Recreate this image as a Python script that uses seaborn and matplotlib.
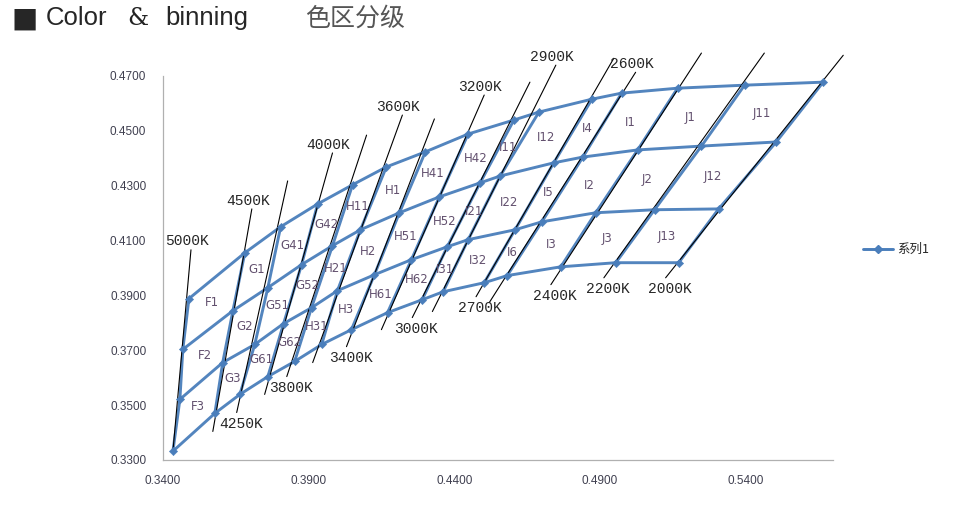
import numpy as np
import pandas as pd
import matplotlib.pyplot as plt
import seaborn as sns
from matplotlib.lines import Line2D

# CCT lines, hottest to coolest
cct = ['5000K', '4500K', '4250K', '4000K', '3800K', '3600K', '3400K', '3200K',
       '3000K', '2900K', '2700K', '2600K', '2400K', '2200K', '2000K']
label_side = ['top', 'top', 'bottom', 'top', 'bottom', 'top', 'bottom', 'top',
              'bottom', 'top', 'bottom', 'top', 'bottom', 'bottom', 'bottom']

# grid points (x, y) on the 4 boundary curves, one value per CCT line
row_a_x = [0.3489, 0.3681, 0.3804, 0.3931, 0.4051, 0.4167, 0.4301, 0.4448, 0.4605, 0.4691, 0.4873, 0.4975, 0.5167, 0.5397, 0.5667]
row_a_y = [0.3888, 0.4055, 0.4150, 0.4233, 0.4303, 0.4368, 0.4423, 0.4488, 0.4539, 0.4568, 0.4615, 0.4637, 0.4655, 0.4666, 0.4677]
row_b_x = [0.3468, 0.3640, 0.3760, 0.3876, 0.3982, 0.4078, 0.4212, 0.4349, 0.4489, 0.4558, 0.4742, 0.4842, 0.5030, 0.5249, 0.5506]
row_b_y = [0.3703, 0.3844, 0.3928, 0.4012, 0.4081, 0.4139, 0.4201, 0.4259, 0.4310, 0.4335, 0.4383, 0.4404, 0.4430, 0.4444, 0.4459]
row_c_x = [0.3458, 0.3605, 0.3715, 0.3814, 0.3910, 0.3999, 0.4126, 0.4253, 0.4376, 0.4448, 0.4609, 0.4701, 0.4886, 0.5088, 0.5308]
row_c_y = [0.3521, 0.3655, 0.3721, 0.3797, 0.3855, 0.3917, 0.3975, 0.4030, 0.4077, 0.4103, 0.4139, 0.4168, 0.4201, 0.4212, 0.4215]
row_d_x = [0.3434, 0.3578, 0.3664, 0.3760, 0.3852, 0.3945, 0.4047, 0.4171, 0.4290, 0.4362, 0.4503, 0.4582, 0.4766, 0.4955, 0.5171]
row_d_y = [0.3332, 0.3470, 0.3539, 0.3604, 0.3659, 0.3721, 0.3775, 0.3837, 0.3884, 0.3913, 0.3946, 0.3972, 0.4004, 0.4019, 0.4019]

# thin black CCT guide lines: top and bottom ends
top_x = [0.3496, 0.3705, 0.3828, 0.3982, 0.4099, 0.4222, 0.4332, 0.4503, 0.4660, 0.4749, 0.4948, 0.5023, 0.5249, 0.5465, 0.5736]
top_y = [0.4066, 0.4215, 0.4317, 0.4419, 0.4484, 0.4557, 0.4543, 0.4630, 0.4677, 0.4739, 0.4764, 0.4713, 0.4783, 0.4783, 0.4775]
bot_x = [0.3434, 0.3571, 0.3653, 0.3749, 0.3825, 0.3914, 0.4030, 0.4150, 0.4256, 0.4325, 0.4475, 0.4520, 0.4732, 0.4914, 0.5126]
bot_y = [0.3332, 0.3404, 0.3473, 0.3539, 0.3604, 0.3655, 0.3713, 0.3775, 0.3819, 0.3841, 0.3895, 0.3873, 0.3939, 0.3964, 0.3964]

# bin names, rows top->bottom, columns left->right
bins = [
    ['F1', 'G1', 'G41', 'G42', 'H11', 'H1', 'H41', 'H42', 'I11', 'I12', 'I4', 'I1', 'J1', 'J11'],
    ['F2', 'G2', 'G51', 'G52', 'H21', 'H2', 'H51', 'H52', 'I21', 'I22', 'I5', 'I2', 'J2', 'J12'],
    ['F3', 'G3', 'G61', 'G62', 'H31', 'H3', 'H61', 'H62', 'I31', 'I32', 'I6', 'I3', 'J3', 'J13'],
]

blue = '#4a7ebb'
sns.set_style('white')
plt.rcParams['font.family'] = ['DejaVu Sans', 'Noto Sans CJK SC']

rows = [(row_a_x, row_a_y), (row_b_x, row_b_y), (row_c_x, row_c_y), (row_d_x, row_d_y)]
parts = []
for r, (xs, ys) in enumerate(rows):
    parts.append(pd.DataFrame({'x': xs, 'y': ys, 'seg': f'r{r}'}))
for c in range(len(cct)):
    parts.append(pd.DataFrame({'x': [rw[0][c] for rw in rows],
                               'y': [rw[1][c] for rw in rows], 'seg': f'c{c}'}))
grid = pd.concat(parts, ignore_index=True)
pts = pd.concat(parts[:4], ignore_index=True)
guides = pd.concat([pd.DataFrame({'x': [top_x[i], bot_x[i]], 'y': [top_y[i], bot_y[i]], 'seg': i})
                    for i in range(len(cct))], ignore_index=True)

fig = plt.figure(figsize=(9.55, 5.09), dpi=100)
ax = fig.add_axes([0.1707, 0.0963, 0.7013, 0.7547])

sns.lineplot(data=guides, x='x', y='y', units='seg', estimator=None, sort=False,
             color='black', lw=0.8, ax=ax, legend=False, clip_on=False, zorder=3)
sns.lineplot(data=grid, x='x', y='y', units='seg', estimator=None, sort=False,
             color=blue, lw=2.1, ax=ax, legend=False, zorder=2, alpha=0.95)
sns.scatterplot(data=pts, x='x', y='y', marker='D', s=18, color=blue,
                edgecolor=blue, ax=ax, legend=False, zorder=4)

for i, name in enumerate(cct):
    if label_side[i] == 'top':
        ax.annotate(name, (top_x[i], top_y[i]), xytext=(-3, 1), textcoords='offset points',
                    ha='center', va='bottom', fontsize=10.5, family='Liberation Mono',
                    annotation_clip=False)
    else:
        ax.annotate(name, (bot_x[i], bot_y[i]), xytext=(3, -3), textcoords='offset points',
                    ha='center', va='top', fontsize=10.5, family='Liberation Mono',
                    annotation_clip=False)

for r in range(3):
    for c in range(len(cct) - 1):
        cx = np.mean([rows[r][0][c], rows[r][0][c + 1], rows[r + 1][0][c], rows[r + 1][0][c + 1]])
        cy = np.mean([rows[r][1][c], rows[r][1][c + 1], rows[r + 1][1][c], rows[r + 1][1][c + 1]])
        ax.text(cx, cy, bins[r][c], ha='center', va='center', fontsize=8.5,
                color='#62506e', zorder=5)

ax.set_xlim(0.34, 0.57)
ax.set_ylim(0.33, 0.47)
ax.set_xticks([0.34, 0.39, 0.44, 0.49, 0.54])
ax.set_yticks(np.arange(0.33, 0.4701, 0.02))
ax.xaxis.set_major_formatter('{x:.4f}')
ax.yaxis.set_major_formatter('{x:.4f}')
ax.set_xlabel('')
ax.set_ylabel('')
for s in ['top', 'right']:
    ax.spines[s].set_visible(False)
for s in ['left', 'bottom']:
    ax.spines[s].set_color('#b0b0b0')
    ax.spines[s].set_linewidth(0.9)
ax.tick_params(direction='out', length=4, color='#b0b0b0', labelsize=8.5,
               labelcolor='#404050')
ax.tick_params(axis='y', pad=8)
ax.tick_params(axis='x', pad=7)
for lab in ax.get_xticklabels() + ax.get_yticklabels():
    lab.set_family('Liberation Sans')

h = Line2D([], [], color=blue, lw=2.1, marker='D', ms=4)
fig.legend([h], ['系列1'], loc='center left', bbox_to_anchor=(0.892, 0.51), frameon=False,
           handlelength=2.4, handletextpad=0.3, prop={'family': 'Noto Sans CJK SC', 'size': 9})

# title strip
fig.text(11 / 955, 0.964, '■', fontsize=20, va='center', ha='left', family='DejaVu Sans')
fig.text(46 / 955, 0.964, 'Color', fontsize=18.5, va='center', ha='left', family='Liberation Sans')
fig.text(127 / 955, 0.964, '&', fontsize=17, va='center', ha='left', family='DejaVu Serif',
         color='#222222')
fig.text(165 / 955, 0.964, 'binning', fontsize=18.5, va='center', ha='left', family='Liberation Sans')
fig.text(305 / 955, 0.964, '色区分级', fontsize=18, va='center', ha='left',
         family='Noto Sans CJK SC', color='#555555')

fig.savefig('out.png', dpi=100)
